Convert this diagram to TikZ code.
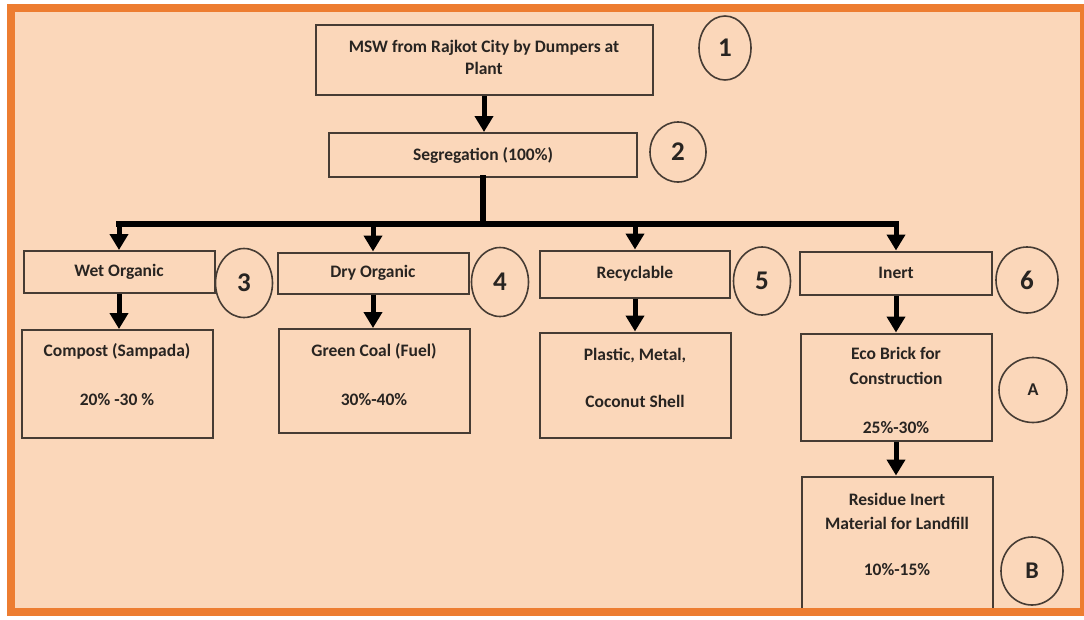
\documentclass[tikz,border=0pt]{standalone}
\usepackage{fontspec}
\setmainfont{Carlito}
\usepackage{tikz}
\usetikzlibrary{positioning}
\usetikzlibrary{shapes.geometric}
\usetikzlibrary{arrows.meta}

\definecolor{peach}{RGB}{251,215,186}
\definecolor{frameorange}{RGB}{237,125,49}
\definecolor{inkgray}{RGB}{70,60,52}
\definecolor{textgray}{RGB}{40,36,33}

\begin{document}
\begin{tikzpicture}[
		  x=1pt, y=-1pt,
		  every node/.style = {font=\bfseries\fontsize{17.5}{24}\selectfont, text=textgray},
		  box/.style = {shape=rectangle, draw=inkgray, line width=2pt, align=center, inner sep=0pt},
		  tag/.style = {shape=ellipse, draw=inkgray, line width=1.6pt, inner sep=0pt, font=\bfseries\fontsize{27}{27}\selectfont},
		  flow/.style = {draw=black, line width=5pt, -{Triangle[width=18pt,length=16pt]}},
		  bar/.style = {draw=black, line width=6pt, line cap=rect}
		]

		  \useasboundingbox (0,0) rectangle (1084,619);
		  \fill[white] (0,0) rectangle (1084,619);
		  \fill[peach] (11,8) rectangle (1084,612);

		  % boxes
		  \node[box, minimum width=337pt, minimum height=70pt, text depth=6pt] (msw) at (484,60) {MSW from Rajkot City by Dumpers at\\[-2pt]Plant};
		  \node[box, minimum width=308pt, minimum height=44pt] (seg) at (483,155) {Segregation (100\%)};

		  \node[box, minimum width=191pt, minimum height=42pt] (wet) at (119,272) {Wet Organic};
		  \node[box, minimum width=191pt, minimum height=41pt] (dry) at (373,273) {Dry Organic};
		  \node[box, minimum width=190pt, minimum height=47pt] (rec) at (635,274) {Recyclable};
		  \node[box, minimum width=192pt, minimum height=43pt] (inert) at (896,273) {Inert};

		  \node[box, minimum width=191pt, minimum height=108pt, text depth=20pt] (compost) at (117,384) {Compost (Sampada)\\[25pt]20\% -30 \%};
		  \node[box, minimum width=191pt, minimum height=104pt, text depth=14pt] (coal) at (374,381) {Green Coal (Fuel)\\[25pt]30\%-40\%};
		  \node[box, minimum width=191pt, minimum height=105pt, text depth=14pt] (plastic) at (635,385) {Plastic, Metal,\\[23pt]Coconut Shell};
		  \node[box, minimum width=191pt, minimum height=107pt, text height=97pt, text depth=4pt] (brick) at (896,387) {Eco Brick for\\[1pt]Construction\\[25pt]25\%-30\%};
		  \node[box, minimum width=191pt, minimum height=135pt, text depth=20pt] (residue) at (897,544) {Residue Inert\\Material for Landfill\\[22pt]10\%-15\%};

		  % step numbers
		  \node[tag, minimum width=52pt, minimum height=64pt] (n1) at (725,48) {1};
		  \node[tag, minimum width=56pt, minimum height=60pt] (n2) at (678,152) {2};
		  \node[tag, minimum width=57pt, minimum height=69pt] (n3) at (244,283) {3};
		  \node[tag, minimum width=57pt, minimum height=69pt] (n4) at (500,282) {4};
		  \node[tag, minimum width=57pt, minimum height=68pt] (n5) at (762,281) {5};
		  \node[tag, minimum width=62pt, minimum height=66pt] (n6) at (1027,280) {6};
		  \node[tag, minimum width=68pt, minimum height=65pt, font=\bfseries\fontsize{18}{18}\selectfont] (na) at (1033,390) {A};
		  \node[tag, minimum width=62pt, minimum height=68pt, font=\bfseries\fontsize{24}{24}\selectfont] (nb) at (1032,571) {B};

		  % connectors
		  \draw[flow] (msw.south) -- (msw.south |- seg.north);
		  \draw[bar] (seg.south) -- ++(0,46) coordinate (hub);
		  \draw[bar] (wet.north |- hub) -- (inert.north |- hub);
		  \foreach \b in {wet,dry,rec,inert}
			\draw[flow] (\b.north |- hub) -- (\b.north);
		  \draw[flow] (wet.south) -- (wet.south |- compost.north);
		  \draw[flow] (dry.south) -- (dry.south |- coal.north);
		  \draw[flow] (rec.south) -- (rec.south |- plastic.north);
		  \draw[flow] (inert.south) -- (inert.south |- brick.north);
		  \draw[flow] (brick.south) -- (brick.south |- residue.north);

		  \draw[frameorange, line width=8pt] (11,8) rectangle (1084,612);
		\end{tikzpicture}
\end{document}
